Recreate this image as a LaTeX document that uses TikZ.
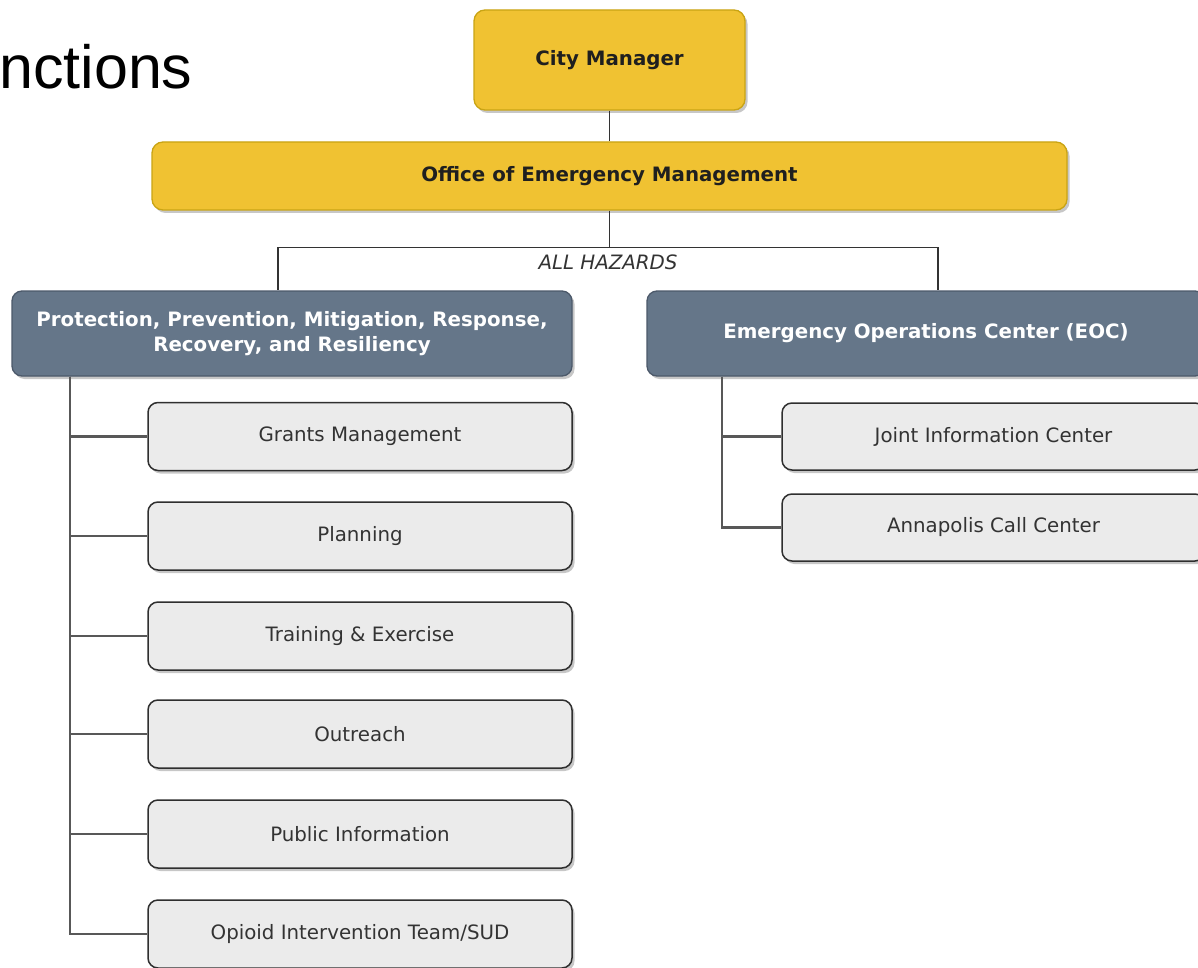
\documentclass[tikz,border=0pt]{standalone}
\usepackage{fontspec}
\setmainfont{DejaVu Sans}
\newfontfamily\headfont{Liberation Sans}
\usetikzlibrary{shadows,calc}
\definecolor{gold}{HTML}{F0C232}
\definecolor{goldline}{HTML}{C9A414}
\definecolor{slate}{HTML}{657689}
\definecolor{slateline}{HTML}{4C596A}
\definecolor{unitfill}{HTML}{EBEBEB}
\definecolor{unitline}{HTML}{2F2F2F}
\definecolor{wire}{HTML}{585858}
\definecolor{topwirecol}{HTML}{333333}
\definecolor{labelgray}{HTML}{333333}

\begin{document}
\begin{tikzpicture}[x=1pt,y=-1pt,
  boxshadow/.style={drop shadow={shadow xshift=2.5pt,shadow yshift=-3pt,fill=black,opacity=0.22}},
  execbox/.style={draw=goldline, line width=1.3pt, fill=gold, rounded corners=11pt,
    inner sep=0pt, boxshadow, text=black!88, font=\fontsize{19.8}{24}\selectfont\bfseries},
  divbox/.style={draw=slateline, line width=1.3pt, fill=slate, rounded corners=10pt,
    inner sep=0pt, boxshadow, text=white, align=center,
    font=\fontsize{19.8}{25}\selectfont\bfseries},
  unitbox/.style={draw=unitline, line width=1.5pt, fill=unitfill, rounded corners=10pt,
    inner sep=0pt, boxshadow, text=labelgray, font=\fontsize{19.8}{24}\selectfont},
  topwire/.style={draw=topwirecol, line width=1.5pt},
  trunk/.style={draw=wire, line width=2.2pt},
]
\useasboundingbox (0,0) rectangle (1198,968);
\clip (0,0) rectangle (1198,968);
\fill[white] (0,0) rectangle (1198,968);

% page heading
\node[anchor=base west, inner sep=0pt, font=\headfont\fontsize{61}{70}\selectfont] (heading) at (-1,89) {nctions};

% top of the hierarchy
\node[execbox, minimum width=271pt, minimum height=100pt] (cm) at (609.5,60) {City Manager};
\node[execbox, minimum width=915pt, minimum height=68pt] (oem) at (609.5,176) {Office of Emergency Management};

% divisions
\node[divbox, minimum width=560pt, minimum height=85pt] (ppm) at (292,333.5)
  {Protection, Prevention, Mitigation, Response,\\Recovery, and Resiliency};
\node[divbox, minimum width=558pt, minimum height=85pt] (eoc) at (926,333.5)
  {Emergency Operations Center (EOC)};

% units under the left division
\node[unitbox, minimum width=424pt, minimum height=68pt] (g1) at (360,436.5) {Grants Management};
\node[unitbox, minimum width=424pt, minimum height=68pt] (g2) at (360,536) {Planning};
\node[unitbox, minimum width=424pt, minimum height=68pt] (g3) at (360,636) {Training \& Exercise};
\node[unitbox, minimum width=424pt, minimum height=68pt] (g4) at (360,734) {Outreach};
\node[unitbox, minimum width=424pt, minimum height=68pt] (g5) at (360,834) {Public Information};
\node[unitbox, minimum width=424pt, minimum height=68pt] (g6) at (360,934) {Opioid Intervention Team/SUD};

% units under the EOC
\node[unitbox, minimum width=423pt, minimum height=67pt] (e1) at (993.5,436.5) {Joint Information Center};
\node[unitbox, minimum width=423pt, minimum height=67pt] (e2) at (993.5,527.5) {Annapolis Call Center};

% connectors
\draw[topwire] (cm.south) -- (oem.north);
\draw[topwire] (oem.south) -- ++(0,37) coordinate (split) -| ([xshift=-14pt]ppm.north);
\draw[topwire] (split) -| ([xshift=12pt]eoc.north);
\node[font=\fontsize{19.8}{24}\selectfont\itshape, text=labelgray, inner sep=0pt] (hazards) at (608,262) {ALL HAZARDS};

\foreach \u in {g1,g2,g3,g4,g5,g6}
  \draw[trunk] ([xshift=59pt]ppm.south west) |- (\u.west);
\foreach \u in {e1,e2}
  \draw[trunk] ([xshift=76pt]eoc.south west) |- (\u.west);
\end{tikzpicture}
\end{document}
